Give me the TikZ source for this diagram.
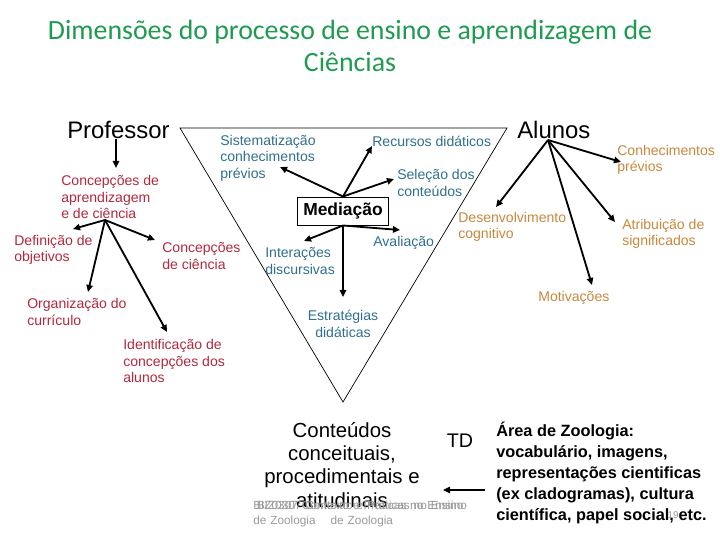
\documentclass[tikz,border=0pt]{standalone}
\usepackage{fontspec}
\setmainfont{Liberation Sans}
\newfontfamily\titlefont{Carlito}
\usetikzlibrary{arrows.meta, positioning}
\definecolor{titlegreen}{HTML}{1E9B50}
\definecolor{profred}{HTML}{B3283C}
\definecolor{medblue}{HTML}{2F6F8F}
\definecolor{alunoorange}{HTML}{C8883C}
\definecolor{footgray}{HTML}{9A9A9A}

\begin{document}
\begin{tikzpicture}[
    x=0.025cm, y=-0.025cm,
    every node/.style={inner sep=0pt},
    label/.style={anchor=west, align=left, text=#1, font=\fontsize{10}{11.7}\selectfont},
    label/.default=black,
    actor/.style={anchor=west, font=\fontsize{17}{20}\selectfont},
    foot/.style={anchor=north west, text=footgray, text width=153pt, font=\fontsize{8.4}{10.6}\selectfont},
    arr/.style={-{Triangle[length=5pt,width=4.5pt]}, line width=1.3pt},
]
\useasboundingbox (0,0) rectangle (720,540);

% Title
\node[text=titlegreen, align=center, font=\titlefont\fontsize{19.8}{22.8}\selectfont] (title) at (350,46)
    {Dimensões do processo de ensino e aprendizagem de\\Ciências};

% Triangle
\draw[line width=0.5pt] (180,128) -- (507,128) -- (343,402) -- cycle;

% Professor side
\node[actor] (prof) at (67,130) {Professor};
\node[label=profred] (cap) at (61,197) {Concepções de\\aprendizagem\\e de ciência};
\node[label=profred] (defn) at (14,250) {Definição de\\objetivos};
\node[label=profred] (conc) at (162,256) {Concepções\\de ciência};
\node[label=profred] (orgc) at (27,312) {Organização do\\currículo};
\node[label=profred] (ident) at (123,361) {Identificação de\\concepções dos\\alunos};

% Mediation
\node[draw, line width=0.6pt, minimum width=65pt, minimum height=20pt, font=\bfseries\fontsize{12.4}{14}\selectfont] (med) at (343,211) {Mediação};
\node[label=medblue] (sist) at (220,158) {Sistematização\\conhecimentos\\prévios};
\node[label=medblue] (recu) at (372,141) {Recursos didáticos};
\node[label=medblue] (sele) at (397,183) {Seleção dos\\conteúdos};
\node[label=medblue] (inte) at (265,261) {Interações\\discursivas};
\node[label=medblue] (aval) at (373,243) {Avaliação};
\node[label=medblue, anchor=center, align=center] (estr) at (343,324) {Estratégias\\didáticas};

% Alunos side
\node[actor] (alun) at (517,130) {Alunos};
\node[label=alunoorange] (conh) at (617,160) {Conhecimentos\\prévios};
\node[label=alunoorange] (dese) at (458,227) {Desenvolvimento\\cognitivo};
\node[label=alunoorange] (atri) at (622,234) {Atribuição de\\significados};
\node[label=alunoorange] (moti) at (538,298) {Motivações};

% Bottom
\node[align=center, font=\fontsize{14.5}{16.4}\selectfont] (cont) at (342,465)
    {Conteúdos\\conceituais,\\procedimentais e\\atitudinais};
\node[font=\fontsize{14}{16}\selectfont] (td) at (460,441) {TD};
\node[anchor=west, align=left, font=\bfseries\fontsize{11.6}{15}\selectfont] (area) at (496,473)
    {Área de Zoologia:\\vocabulário, imagens,\\representações cientificas\\(ex cladogramas), cultura\\científica, papel social, etc.};

% Footer
\node[foot, align=left] (foota) at (253,501) {BIZ0307 Contexto e Práticas no Ensino\\de Zoologia};
\node[foot, align=center] (footb) at (254,501) {BIZ0307 Contexto e Práticas no Ensino\\de Zoologia};
\node[text=footgray, font=\fontsize{7}{8}\selectfont] (page) at (673,515) {19};

% Hubs and arrow tips
\coordinate (caphub) at (105,220);
\coordinate (alunhub) at (548,140);
\coordinate (captip) at (116,168);
\coordinate (defntip) at (73,229);
\coordinate (conctip) at (155,240);
\coordinate (orgctip) at (88,292);
\coordinate (identip) at (167,332);
\coordinate (sisttip) at (280,167);
\coordinate (recutip) at (372,146);
\coordinate (seletip) at (394,179);
\coordinate (intetip) at (304,241);
\coordinate (avaltip) at (400,230);
\coordinate (estrtip) at (343,297);
\coordinate (conhtip) at (621,162);
\coordinate (desetip) at (496,207);
\coordinate (motitip) at (592,285);
\coordinate (atritip) at (615,222);
\coordinate (areaout) at (485,490);
\coordinate (conttip) at (443,490);

% Professor arrows
\draw[arr] (prof.south -| captip) -- (captip);
\draw[arr] (caphub) -- (defntip);
\draw[arr] (caphub) -- (conctip);
\draw[arr] (caphub) -- (orgctip);
\draw[arr] (caphub) -- (identip);

% Mediation arrows
\draw[arr] (med.north) -- (sisttip);
\draw[arr] (med.north) -- (recutip);
\draw[arr] (med.north) -- (seletip);
\draw[arr] (med.south) -- (intetip);
\draw[arr] (med.south) -- (avaltip);
\draw[arr] (med.south) -- (estrtip);

% Alunos arrows
\draw[arr] (alunhub) -- (conhtip);
\draw[arr] (alunhub) -- (desetip);
\draw[arr] (alunhub) -- (motitip);
\draw[arr] (alunhub) -- (atritip);

% Area to contents
\draw[arr, line width=1.1pt] (areaout) -- (conttip);

\end{tikzpicture}
\end{document}
